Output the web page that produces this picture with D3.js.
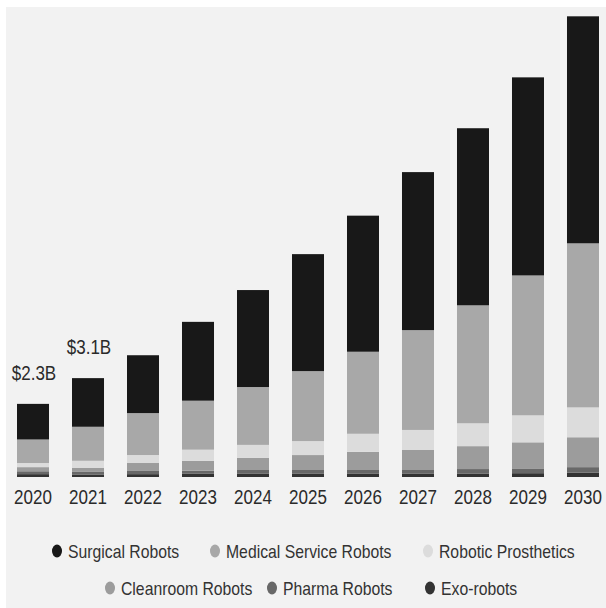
<!DOCTYPE html>
<html>
<head>
<meta charset="utf-8">
<script src="https://cdn.jsdelivr.net/npm/d3@7"></script>
<style>
  html, body { margin: 0; padding: 0; background: #ffffff; }
  svg { display: block; }
  text { font-family: "Liberation Sans", Arial, sans-serif; }
</style>
</head>
<body>
<svg id="chart" width="606" height="608"></svg>
<script>
const years = ["2020","2021","2022","2023","2024","2025","2026","2027","2028","2029","2030"];
const seriesNames = ["Surgical Robots","Medical Service Robots","Robotic Prosthetics","Cleanroom Robots","Pharma Robots","Exo-robots"];
const surgical   = [1.12, 1.53, 1.82, 2.48, 3.05, 3.68, 4.28, 4.97, 5.57, 6.23, 7.14];
const medical    = [0.74, 1.07, 1.32, 1.54, 1.82, 2.20, 2.58, 3.14, 3.71, 4.40, 5.16];
const prosthetic = [0.13, 0.22, 0.25, 0.35, 0.41, 0.44, 0.57, 0.63, 0.72, 0.85, 0.94];
const cleanroom  = [0.13, 0.13, 0.25, 0.31, 0.38, 0.47, 0.57, 0.63, 0.72, 0.82, 0.94];
const pharma     = [0.09, 0.08, 0.10, 0.10, 0.12, 0.12, 0.12, 0.12, 0.14, 0.15, 0.17];
const exo        = [0.09, 0.08, 0.09, 0.10, 0.10, 0.10, 0.10, 0.10, 0.11, 0.12, 0.14];
const totalLabels = ["$2.3B", "$3.1B"];
const colors = ["#181818", "#a8a8a8", "#dcdcdc", "#9c9c9c", "#686868", "#333333"];

const svg = d3.select("#chart");
// background panel
svg.append("rect").attr("x", 6).attr("y", 7).attr("width", 600).attr("height", 601).attr("fill", "#f2f2f2");

const seriesValues = [surgical, medical, prosthetic, cleanroom, pharma, exo];
const rows = years.map((yr, i) => {
  const r = { year: yr };
  seriesNames.forEach((n, j) => r[n] = seriesValues[j][i]);
  return r;
});

// stack from bottom: exo, pharma, cleanroom, prosthetics, medical, surgical
const stackKeys = seriesNames.slice().reverse();
const stacked = d3.stack().keys(stackKeys)(rows);

const x = d3.scaleBand().domain(years).range([17, 599]).paddingInner(0.418).paddingOuter(0);
const y = d3.scaleLinear().domain([0, 14.5]).range([477, 16]);
const color = d3.scaleOrdinal().domain(seriesNames).range(colors);

const g = svg.append("g");
g.selectAll("g.layer").data(stacked).join("g")
  .attr("class", "layer")
  .attr("fill", d => color(d.key))
  .selectAll("rect").data(d => d).join("rect")
  .attr("x", d => x(d.data.year))
  .attr("width", x.bandwidth())
  .attr("y", d => y(d[1]))
  .attr("height", d => y(d[0]) - y(d[1]));

// x axis labels (narrowed)
const xAxis = d3.axisBottom(x).tickSize(0).tickPadding(0);
const ax = svg.append("g").call(xAxis);
ax.select(".domain").remove();
ax.selectAll("text")
  .attr("y", 0)
  .attr("dy", null)
  .attr("transform", "translate(0,504) scale(0.81,1)")
  .attr("font-size", 21)
  .attr("fill", "#2a2a2a")
  .style("font-family", "\"Liberation Sans\", Arial, sans-serif");

// total labels for first two bars
const totals = rows.map((r, i) => d3.sum(seriesValues, s => s[i]));
svg.selectAll("text.total").data(totalLabels).join("text")
  .attr("class", "total")
  .attr("transform", (d, i) => `translate(${x(years[i]) + x.bandwidth() / 2 + 1},${y(totals[i]) - 31}) scale(0.81,1)`)
  .attr("text-anchor", "middle")
  .attr("dy", "0.35em")
  .attr("font-size", 21)
  .attr("fill", "#2a2a2a")
  .text(d => d);

// legend
const legendRows = [
  [{ name: seriesNames[0], cx: 57 }, { name: seriesNames[1], cx: 215 }, { name: seriesNames[2], cx: 428 }],
  [{ name: seriesNames[3], cx: 110 }, { name: seriesNames[4], cx: 272 }, { name: seriesNames[5], cx: 430 }]
];
const legendY = [551, 588];
legendRows.forEach((row, ri) => {
  const lg = svg.append("g").attr("transform", `translate(0,${legendY[ri]})`);
  row.forEach(item => {
    lg.append("ellipse").attr("cx", item.cx).attr("cy", 0).attr("rx", 5).attr("ry", 6.5).attr("fill", color(item.name));
    lg.append("text")
      .attr("transform", `translate(${item.cx + 11},0) scale(0.83,1)`)
      .attr("dy", "0.35em")
      .attr("font-size", 19).attr("fill", "#333333").text(item.name);
  });
});
</script>
</body>
</html>
